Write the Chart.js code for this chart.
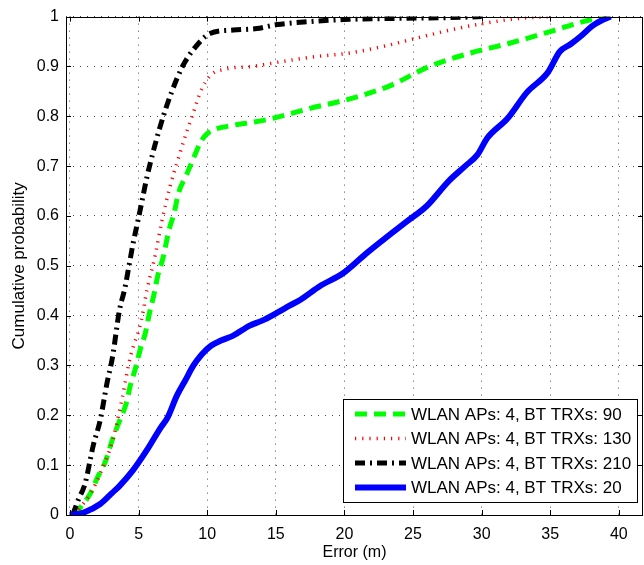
<!DOCTYPE html>
<html>
<head>
<meta charset="utf-8">
<script src="https://cdn.jsdelivr.net/npm/chart.js@4.4.1/dist/chart.umd.min.js"></script>
<style>
  html, body { margin: 0; padding: 0; background: #fff; }
  #wrap { width: 644px; height: 565px; }
</style>
</head>
<body>
<div id="wrap"><canvas id="cdf_chart"></canvas></div>
<script>
"use strict";

// series labels (legend order)
const seriesLabels = [
  "WLAN APs: 4, BT TRXs: 90",
  "WLAN APs: 4, BT TRXs: 130",
  "WLAN APs: 4, BT TRXs: 210",
  "WLAN APs: 4, BT TRXs: 20"
];

// BT TRXs: 90
const errBt90 = [0.3, 0.9, 1.5, 2.0, 2.55, 3.1, 3.6, 4.1, 4.4, 4.8, 5.1, 5.5, 5.8, 6.1, 6.4, 6.8, 7.2, 7.6, 7.9, 8.5, 9.0, 9.6, 10.0, 10.4, 11.9, 13.3, 14.8, 17.5, 20.4, 23.3, 26.2, 29.2, 32.1, 35.0, 37.4, 39.1];
const cdfBt90 = [0, 0.02, 0.044, 0.075, 0.105, 0.152, 0.188, 0.224, 0.26, 0.297, 0.33, 0.366, 0.406, 0.44, 0.48, 0.518, 0.57, 0.607, 0.645, 0.683, 0.716, 0.752, 0.765, 0.772, 0.782, 0.788, 0.796, 0.816, 0.835, 0.861, 0.90, 0.927, 0.947, 0.97, 0.99, 1.0];

// BT TRXs: 130
const errBt130 = [0.3, 0.9, 1.5, 2.2, 3.1, 3.8, 4.4, 5.2, 5.6, 6.2, 6.7, 7.3, 7.9, 8.5, 9.0, 9.5, 10.2, 11.4, 13.3, 15.5, 18.0, 20.4, 22.8, 25.3, 27.7, 30.1, 32.6, 35.0];
const cdfBt130 = [0, 0.02, 0.043, 0.083, 0.149, 0.234, 0.317, 0.39, 0.45, 0.52, 0.59, 0.66, 0.716, 0.768, 0.808, 0.848, 0.881, 0.895, 0.90, 0.91, 0.92, 0.927, 0.94, 0.957, 0.973, 0.986, 0.996, 1.0];

// BT TRXs: 210
const errBt210 = [0.2, 0.6, 1.1, 1.7, 2.2, 2.7, 3.1, 3.6, 4.0, 4.3, 4.6, 4.95, 5.3, 5.6, 6.2, 6.8, 7.4, 8.2, 9.0, 10.2, 11.9, 13.6, 15.1, 17.5, 19.9, 22.8, 27.7, 30.0];
const cdfBt210 = [0, 0.03, 0.063, 0.14, 0.19, 0.265, 0.317, 0.41, 0.455, 0.50, 0.545, 0.59, 0.637, 0.677, 0.743, 0.80, 0.848, 0.90, 0.934, 0.966, 0.973, 0.976, 0.984, 0.99, 0.994, 0.996, 0.998, 1.0];

// BT TRXs: 20
const errBt20 = [0, 1.0, 2.2, 3.1, 3.6, 4.6, 5.6, 6.6, 7.1, 7.8, 8.4, 9.0, 9.6, 10.3, 11.0, 11.9, 13.1, 14.0, 15.1, 16.0, 16.8, 18.2, 19.9, 21.6, 23.1, 24.6, 26.0, 27.6, 28.8, 29.7, 30.4, 31.9, 33.3, 34.8, 35.7, 36.5, 37.2, 38.1, 38.8, 39.4];
const cdfBt20 = [0, 0.005, 0.022, 0.045, 0.058, 0.09, 0.13, 0.175, 0.195, 0.24, 0.27, 0.30, 0.322, 0.34, 0.35, 0.36, 0.38, 0.39, 0.406, 0.42, 0.432, 0.459, 0.485, 0.525, 0.558, 0.59, 0.62, 0.67, 0.70, 0.723, 0.756, 0.796, 0.848, 0.887, 0.93, 0.945, 0.96, 0.982, 0.993, 1.0];

const xTicks = [0, 5, 10, 15, 20, 25, 30, 35, 40];
const yTicks = [0, 0.1, 0.2, 0.3, 0.4, 0.5, 0.6, 0.7, 0.8, 0.9, 1];

const FONT = "'Liberation Sans', Arial, Helvetica, sans-serif";

function toPoints(xs, ys) {
  return xs.map((x, i) => ({ x: x, y: ys[i] }));
}

// MATLAB-like box, inward ticks, and legend inside the axes
const axesBox = {
  id: "axesBox",
  afterDatasetsDraw(chart) {
    const ctx = chart.ctx;
    const { left, right, top, bottom } = chart.chartArea;
    const xs = chart.scales.x;
    const ys = chart.scales.y;
    ctx.save();
    ctx.strokeStyle = "#000";
    ctx.lineWidth = 1;
    ctx.setLineDash([]);
    ctx.beginPath();
    xTicks.forEach((v) => {
      const px = Math.round(xs.getPixelForValue(v)) + 0.5;
      ctx.moveTo(px, bottom); ctx.lineTo(px, bottom - 5);
      ctx.moveTo(px, top); ctx.lineTo(px, top + 5);
    });
    yTicks.forEach((v) => {
      const py = Math.round(ys.getPixelForValue(v)) + 0.5;
      ctx.moveTo(left, py); ctx.lineTo(left + 5, py);
      ctx.moveTo(right, py); ctx.lineTo(right - 5, py);
    });
    ctx.stroke();
    ctx.strokeRect(Math.round(left) + 0.5, Math.round(top) + 0.5,
      Math.round(right - left) - 1, Math.round(bottom - top));

    // legend
    const bx = right - 300, by = bottom - 116, bw = 294, bh = 103;
    ctx.fillStyle = "#fff";
    ctx.fillRect(bx, by, bw, bh);
    ctx.strokeRect(bx + 0.5, by + 0.5, bw, bh);
    ctx.font = "17px " + FONT;
    ctx.textAlign = "left";
    ctx.textBaseline = "middle";
    chart.data.datasets.forEach((ds, i) => {
      const cy = by + 15 + i * 24.5;
      ctx.save();
      ctx.strokeStyle = ds.borderColor;
      ctx.lineWidth = ds.borderWidth;
      ctx.setLineDash(ds.borderDash || []);
      ctx.beginPath();
      ctx.moveTo(bx + 12, cy);
      ctx.lineTo(bx + 63, cy);
      ctx.stroke();
      ctx.restore();
      ctx.fillStyle = "#000";
      ctx.fillText(ds.label, bx + 68, cy + 1);
    });
    ctx.restore();
  }
};

const cdfChartContext = document
  .getElementById("cdf_chart")
  .getContext("2d");

const cdfChart = new Chart(cdfChartContext, {
  type: "line",
  data: {
    datasets: [
      {
        label: seriesLabels[0],
        data: toPoints(errBt90, cdfBt90),
        borderColor: "#00ff00",
        borderWidth: 5,
        borderDash: [12, 7],
        order: 3
      },
      {
        label: seriesLabels[1],
        data: toPoints(errBt130, cdfBt130),
        borderColor: "#ff0000",
        borderWidth: 3.5,
        borderDash: [1.2, 6],
        order: 2
      },
      {
        label: seriesLabels[2],
        data: toPoints(errBt210, cdfBt210),
        borderColor: "#000000",
        borderWidth: 5,
        borderDash: [10, 5, 2, 5],
        order: 1
      },
      {
        label: seriesLabels[3],
        data: toPoints(errBt20, cdfBt20),
        borderColor: "#0000ff",
        borderWidth: 6,
        order: 0
      }
    ]
  },
  options: {
    responsive: true,
    maintainAspectRatio: false,
    animation: false,
    layout: { padding: { top: 10, right: 1, left: 0, bottom: 0 } },
    elements: {
      point: { radius: 0 },
      line: { cubicInterpolationMode: "monotone", fill: false, borderCapStyle: "butt" }
    },
    plugins: {
      legend: { display: false },
      tooltip: { enabled: false }
    },
    scales: {
      x: {
        type: "linear",
        min: -0.29,
        max: 41.76,
        afterBuildTicks: (scale) => {
          scale.ticks = xTicks.map((v) => ({ value: v }));
        },
        afterFit: (scale) => { scale.height = 50; },
        grid: { color: "rgba(0,0,0,0.7)", lineWidth: 1, drawTicks: false },
        border: { display: false, dash: [1, 6] },
        ticks: {
          padding: 10,
          maxRotation: 0,
          color: "#000",
          font: { family: FONT, size: 16 }
        },
        title: {
          display: true,
          text: "Error (m)",
          color: "#000",
          font: { family: FONT, size: 16 },
          padding: { top: 0, bottom: 3 }
        }
      },
      y: {
        type: "linear",
        min: 0,
        max: 1,
        afterBuildTicks: (scale) => {
          scale.ticks = yTicks.map((v) => ({ value: v }));
        },
        afterFit: (scale) => { scale.width = 66; },
        grid: { color: "rgba(0,0,0,0.7)", lineWidth: 1, drawTicks: false },
        border: { display: false, dash: [1, 6] },
        ticks: {
          padding: 7,
          color: "#000",
          font: { family: FONT, size: 16 },
          callback: (v) => String(Number(v.toFixed(1)))
        },
        title: {
          display: true,
          text: "Cumulative probability",
          color: "#000",
          font: { family: FONT, size: 17 },
          padding: { top: 9, bottom: 0 }
        }
      }
    }
  },
  plugins: [axesBox]
});
</script>
</body>
</html>
